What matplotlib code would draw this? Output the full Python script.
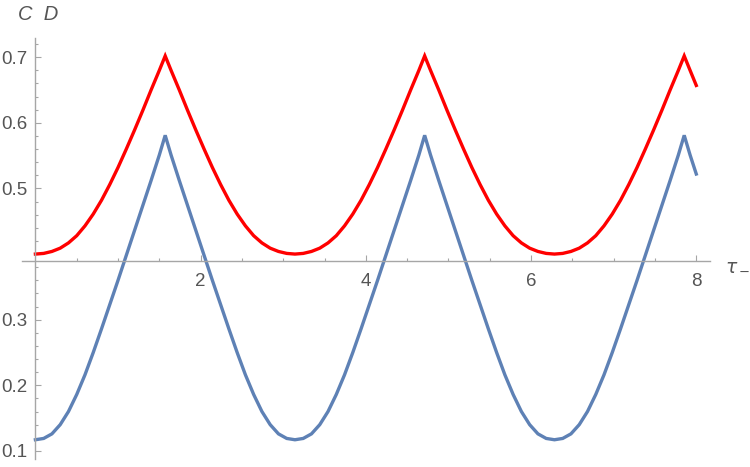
import numpy as np
import matplotlib.pyplot as plt
from matplotlib.ticker import FixedLocator

# values
tau = [0.000, 0.100, 0.200, 0.300, 0.400, 0.500, 0.600, 0.700, 0.800, 0.900,
       1.000, 1.100, 1.200, 1.300, 1.400, 1.500, 1.571,
       1.642, 1.742, 1.842, 1.942, 2.042, 2.142, 2.242, 2.342, 2.442, 2.542,
       2.642, 2.742, 2.842, 2.942, 3.042, 3.142,
       3.242, 3.342, 3.442, 3.542, 3.642, 3.742, 3.842, 3.942, 4.042, 4.142,
       4.242, 4.342, 4.442, 4.542, 4.642, 4.712,
       4.783, 4.883, 4.983, 5.083, 5.183, 5.283, 5.383, 5.483, 5.583, 5.683,
       5.783, 5.883, 5.983, 6.083, 6.183, 6.283,
       6.383, 6.483, 6.583, 6.683, 6.783, 6.883, 6.983, 7.083, 7.183, 7.283,
       7.383, 7.483, 7.583, 7.683, 7.783, 7.854,
       7.925, 8.000]

cd_red = [0.400, 0.401, 0.404, 0.409, 0.417, 0.428, 0.443, 0.461, 0.482, 0.506,
          0.532, 0.560, 0.589, 0.619, 0.650, 0.680, 0.702,
          0.680, 0.650, 0.619, 0.589, 0.560, 0.532, 0.506, 0.482, 0.461, 0.443,
          0.428, 0.417, 0.409, 0.404, 0.401, 0.400,
          0.401, 0.404, 0.409, 0.417, 0.428, 0.443, 0.461, 0.482, 0.506, 0.532,
          0.560, 0.589, 0.619, 0.650, 0.680, 0.702,
          0.680, 0.650, 0.619, 0.589, 0.560, 0.532, 0.506, 0.482, 0.461, 0.443,
          0.428, 0.417, 0.409, 0.404, 0.401, 0.400,
          0.401, 0.404, 0.409, 0.417, 0.428, 0.443, 0.461, 0.482, 0.506, 0.532,
          0.560, 0.589, 0.619, 0.650, 0.680, 0.702,
          0.680, 0.657]

cd_blue = [0.117, 0.119, 0.126, 0.140, 0.160, 0.186, 0.216, 0.250, 0.286, 0.323,
           0.360, 0.398, 0.436, 0.474, 0.512, 0.551, 0.581,
           0.551, 0.512, 0.474, 0.436, 0.398, 0.360, 0.323, 0.286, 0.250, 0.216,
           0.186, 0.160, 0.140, 0.126, 0.119, 0.117,
           0.119, 0.126, 0.140, 0.160, 0.186, 0.216, 0.250, 0.286, 0.323, 0.360,
           0.398, 0.436, 0.474, 0.512, 0.551, 0.581,
           0.551, 0.512, 0.474, 0.436, 0.398, 0.360, 0.323, 0.286, 0.250, 0.216,
           0.186, 0.160, 0.140, 0.126, 0.119, 0.117,
           0.119, 0.126, 0.140, 0.160, 0.186, 0.216, 0.250, 0.286, 0.323, 0.360,
           0.398, 0.436, 0.474, 0.512, 0.551, 0.581,
           0.551, 0.522]

xmajor = [2, 4, 6, 8]
ymajor = [0.1, 0.2, 0.3, 0.5, 0.6, 0.7]

plt.rcParams['font.family'] = ['Liberation Sans', 'DejaVu Sans']
plt.rcParams['mathtext.fontset'] = 'dejavusans'

axcol = '#a6a6a6'
txtcol = '#555555'

fig = plt.figure(figsize=(7.5, 4.67), dpi=100)
ax = fig.add_axes([0.0296, 0.0176, 0.9175, 0.902])

ax.plot(tau, cd_blue, color='#5e81b5', lw=2.4, solid_joinstyle='miter')
ax.plot(tau, cd_red, color='#ff0000', lw=2.4, solid_joinstyle='miter')

ax.set_xlim(-0.16, 8.17)
ax.set_ylim(0.088, 0.73)

ax.spines['top'].set_visible(False)
ax.spines['right'].set_visible(False)
ax.spines['left'].set_position(('data', 0))
ax.spines['bottom'].set_position(('data', 0.39))
for s in ['left', 'bottom']:
    ax.spines[s].set_color(axcol)
    ax.spines[s].set_linewidth(1.0)

ax.xaxis.set_major_locator(FixedLocator(xmajor))
ax.xaxis.set_minor_locator(FixedLocator([0.5, 1, 1.5, 2.5, 3, 3.5, 4.5, 5, 5.5, 6.5, 7, 7.5]))
ax.yaxis.set_major_locator(FixedLocator(ymajor))
ax.yaxis.set_minor_locator(FixedLocator(np.arange(0.1, 0.7201, 0.02)))
ax.set_xticklabels([str(v) for v in xmajor])
ax.set_yticklabels([f'{v:.1f}' for v in ymajor])

ax.tick_params(which='both', direction='in', color=axcol, labelcolor=txtcol, labelsize=13.5)
ax.tick_params(which='major', length=4, width=0.8)
ax.tick_params(which='minor', length=2.4, width=0.8)
ax.tick_params(axis='x', pad=9)
ax.tick_params(axis='y', pad=6)

fig.text(18/750, 1 - 20/467, 'C  D', fontsize=14.5, style='italic', color=txtcol, va='baseline', ha='left')
fig.text(725/750, 1 - 270/467, r'$\tau_-$', fontsize=13.5, color=txtcol, va='baseline', ha='left')

fig.savefig('out.png', dpi=100)
